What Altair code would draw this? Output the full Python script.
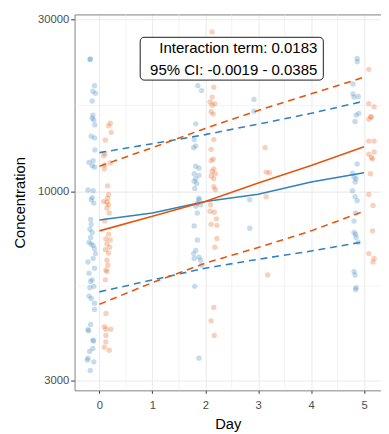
import altair as alt
import pandas as pd

BLUE = "#3182bd"
ORANGE = "#e6550d"
GROUPS = ["Group 1", "Group 2"]

# ---- model fit and confidence bounds (by day) ----
days = [0, 1, 2, 3, 4, 5]
fit_blue = [8346, 8733, 9395, 9833, 10644, 11278]
fit_orange = [7790, 8550, 9400, 10577, 11810, 13326]
upper_blue = [12830, 13580, 14390, 15380, 16480, 17810]
upper_orange = [11760, 13240, 14970, 16790, 18660, 20750]
lower_blue = [5280, 5700, 6140, 6500, 6850, 7270]
lower_orange = [4880, 5600, 6340, 7010, 7790, 8830]

# ---- jittered observations ----
blue_day = [-0.18, -0.17, -0.093, -0.124, -0.074, -0.137, -0.124, -0.137, -0.106, -0.087,
            -0.156, -0.093, -0.087, -0.198, -0.119, -0.137, -0.093, -0.217, -0.119, -0.137,
            -0.156, -0.106, -0.167, -0.156, -0.18, -0.137, -0.167, -0.198, -0.156, -0.119,
            -0.093, -0.074, -0.119, -0.217, -0.093, -0.198, -0.137, -0.167, -0.106, -0.18,
            -0.198, -0.156, -0.093, -0.093, -0.167, -0.217, -0.204, -0.124, -0.111, -0.124,
            -0.185, -0.217, -0.23, -0.106, -0.174,
            1.86, 1.93, 1.82, 1.79, 1.82, 1.78, 1.82, 1.88, 1.79, 1.88,
            1.82, 1.79, 1.84, 1.80, 1.88, 1.88, 1.85, 1.91, 1.82, 1.85,
            1.79, 1.85, 1.82, 1.78, 1.79, 1.88, 1.91, 1.93, 1.80, 1.88,
            2.92, 2.92, 2.84, 2.84,
            4.87, 4.87, 4.79, 4.79, 4.81, 4.89, 4.90, 4.85, 4.83, 4.87,
            4.78, 4.81, 4.85, 4.83, 4.78, 4.83, 4.87, 4.84, 4.81, 4.81,
            4.84, 4.85, 4.89, 4.81, 4.83, 4.85, 4.84]
blue_conc = [23220, 23300, 19660, 18970, 18720, 17830, 16300, 15970, 15790, 15310,
             14240, 14090, 13050, 12060, 12190, 11810, 11690, 10110, 10060, 9630,
             9500, 9300, 8380, 8120, 7870, 7710, 7470, 7240, 7170, 7100,
             6950, 6740, 6530, 6390, 6140, 5950, 5700, 5640, 5470, 5420,
             5140, 5060, 4910, 4720, 4290, 4150, 4120, 3880, 3860, 3680,
             3610, 3460, 3420, 3380, 3200,
             19660, 19050, 15410, 13940, 13390, 13240, 11760, 11620, 11210, 11100,
             10860, 10690, 10530, 10210, 9590, 9500, 9300, 9200, 9110, 8730,
             8040, 7350, 6880, 6740, 6530, 6590, 6460, 6260, 5470, 3460,
             18010, 16710, 9500, 7920,
             23370, 22890, 19870, 18660, 18280, 18350, 16480, 16300, 15640, 11930,
             11260, 10980, 10860, 10640, 10060, 9690, 9440, 8730, 8290, 7710,
             7630, 7470, 7240, 6010, 5880, 5420, 5360]

orange_day = [0.204, 0.172, 0.222, 0.111, 0.098, 0.08, 0.204, 0.098, 0.093, 0.154,
              0.172, 0.154, 0.08, 0.141, 0.172, 0.141, 0.185, 0.1, 0.172, 0.122,
              0.204, 0.141, 0.191, 0.111, 0.172, 0.141, 0.159, 0.122, 0.141, 0.111,
              0.122, 0.093, 0.215, 0.122, 0.122, 0.122, 0.093, 0.185,
              2.13, 2.16, 2.13, 2.09, 2.18, 2.13, 2.11, 2.15, 2.16, 2.11,
              2.15, 2.11, 2.16, 2.13, 2.19, 2.11, 2.16, 2.16, 2.19, 2.10,
              2.09, 2.17, 2.21, 2.11, 2.22, 2.22, 2.18, 2.16, 2.11, 2.17,
              3.13, 3.15, 3.21, 3.15, 3.18,
              5.09, 5.09, 5.19, 5.12, 5.09, 5.14, 5.09, 5.19, 5.09, 5.19,
              5.14, 5.16, 5.12, 5.09, 5.17, 5.16, 5.09, 5.19, 5.17]
orange_conc = [15480, 15220, 14600, 13890, 12760, 12570, 12010, 11860, 11570, 10380,
               9830, 9590, 9400, 9350, 9200, 9010, 8730, 8300, 7630, 7400,
               7350, 7170, 7020, 6910, 6760, 6460, 6260, 6070, 6010, 5700,
               4600, 4230, 4160, 4160, 4000, 3840, 3710, 3640,
               27700, 19460, 18280, 17720, 17540, 17350, 16650, 16400, 13940, 13100,
               12310, 12190, 11570, 11380, 11210, 11050, 10860, 10320, 10140, 9200,
               8830, 8770, 8410, 8120, 8070, 7420, 7020, 4780, 4390, 4000,
               13240, 11330, 11280, 9690, 5880,
               21820, 17540, 17180, 16140, 15860, 16070, 13810, 13810, 12700, 12890,
               12440, 12310, 11210, 9830, 9160, 7790, 6740, 6530, 6390]

# ---- axis / grid values ----
x_domain = [-0.47, 5.32]
y_domain = [2818, 30960]
x_major = [0, 1, 2, 3, 4, 5]
x_minor = [0.5, 1.5, 2.5, 3.5, 4.5]
y_major = [3000, 10000, 30000]
y_minor = [5477, 17321]

# ---- annotation ----
ann_lines = ["Interaction term: 0.0183", "95% CI: -0.0019 - 0.0385"]
ann_y = [24220, 21010]
ann_x = 4.117
box = {"x": 0.77, "x2": 4.23, "y": 20370, "y2": 26760}

pts = pd.DataFrame({
    "day": blue_day + orange_day,
    "conc": blue_conc + orange_conc,
    "group": [GROUPS[0]] * len(blue_day) + [GROUPS[1]] * len(orange_day),
})

rows = []
for grp, fit, lo, hi in [(GROUPS[0], fit_blue, lower_blue, upper_blue),
                         (GROUPS[1], fit_orange, lower_orange, upper_orange)]:
    for kind, vals in [("fit", fit), ("lower", lo), ("upper", hi)]:
        for d, v in zip(days, vals):
            rows.append({"day": d, "conc": v, "group": grp, "kind": kind,
                         "series": grp + kind})
lines = pd.DataFrame(rows)

xs = alt.Scale(domain=x_domain, nice=False, zero=False)
ys = alt.Scale(type="log", domain=y_domain, nice=False)
cs = alt.Scale(domain=GROUPS, range=[BLUE, ORANGE])

GRID = "#ebebeb"
BORDER = "#7f7f7f"

y_axis = alt.Axis(values=y_major, grid=True, gridColor=GRID, gridWidth=1.1,
                  tickSize=4, tickColor="#333333", domainColor=BORDER,
                  labelPadding=2, titlePadding=10, format="d")

minor_x = alt.Chart(pd.DataFrame({"day": x_minor})).mark_rule(
    color=GRID, strokeWidth=0.6).encode(
    x=alt.X("day:Q", scale=xs,
            axis=alt.Axis(orient="top", labels=False, ticks=False, grid=False,
                          domain=True, domainColor=BORDER, domainWidth=1, title=None)))

minor_y = alt.Chart(pd.DataFrame({"conc": y_minor})).mark_rule(
    color=GRID, strokeWidth=0.6).encode(
    y=alt.Y("conc:Q", scale=ys, title="Concentration", axis=y_axis))

points = alt.Chart(pts).mark_circle(size=30, opacity=0.28).encode(
    x=alt.X("day:Q", scale=xs, title="Day",
            axis=alt.Axis(values=x_major, grid=True, gridColor=GRID, gridWidth=1.1,
                          tickSize=3, tickColor="#333333", domainColor=BORDER,
                          labelPadding=7, titlePadding=5, format="d")),
    y=alt.Y("conc:Q", scale=ys, title="Concentration", axis=y_axis),
    color=alt.Color("group:N", scale=cs, legend=None),
)

solid = alt.Chart(lines).transform_filter(alt.datum.kind == "fit").mark_line(
    strokeWidth=1.6).encode(
    x=alt.X("day:Q", scale=xs, axis=None),
    y=alt.Y("conc:Q", scale=ys, title="Concentration", axis=y_axis),
    color=alt.Color("group:N", scale=cs, legend=None),
    detail="series:N",
)

dashed = alt.Chart(lines).transform_filter(alt.datum.kind != "fit").mark_line(
    strokeWidth=1.6, strokeDash=[7, 5]).encode(
    x=alt.X("day:Q", scale=xs, axis=None),
    y=alt.Y("conc:Q", scale=ys, title="Concentration", axis=y_axis),
    color=alt.Color("group:N", scale=cs, legend=None),
    detail="series:N",
)

rect = alt.Chart(pd.DataFrame([box])).mark_rect(
    fill="white", stroke="black", strokeWidth=0.9, cornerRadius=4).encode(
    x=alt.X("x:Q", scale=xs, axis=None), x2="x2:Q",
    y=alt.Y("y:Q", scale=ys, title="Concentration", axis=y_axis), y2="y2:Q")

text = alt.Chart(pd.DataFrame({"t": ann_lines, "x": [ann_x] * 2, "y": ann_y})).mark_text(
    align="right", baseline="alphabetic", fontSize=15.3, color="black",
    font="Liberation Sans").encode(
    x=alt.X("x:Q", scale=xs, axis=None),
    y=alt.Y("y:Q", scale=ys, title="Concentration", axis=y_axis),
    text="t:N")

chart = alt.layer(minor_x, minor_y, points, solid, dashed, rect, text).resolve_axis(
    x="independent").properties(
    width=313, height=384,
    autosize=alt.AutoSizeParams(type="none"),
    padding={"left": 68, "top": 2, "right": 0, "bottom": 40},
).configure(font="Liberation Sans").configure_view(
    stroke=None
).configure_axis(
    labelFontSize=11.5, labelColor="#4d4d4d", titleFontSize=15,
    titleFontWeight="normal", titleColor="black", domainWidth=1,
)

chart.save("out.html", embed_options={"renderer": "svg", "actions": False})
